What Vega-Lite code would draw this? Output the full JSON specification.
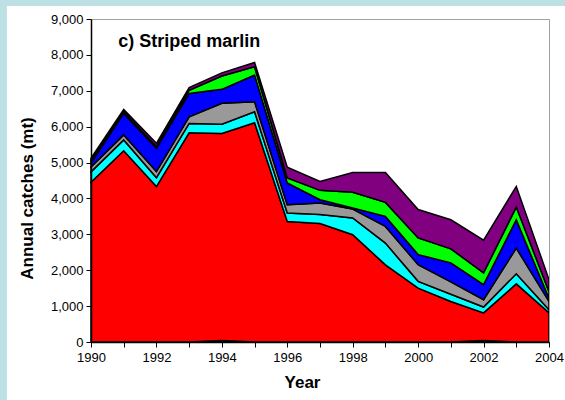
{
  "$schema": "https://vega.github.io/schema/vega-lite/v6.json",
  "width": 458,
  "height": 323,
  "autosize": {"type": "none"},
  "padding": {"left": 91, "top": 19, "right": 16, "bottom": 58},
  "background": "#bde0e4",
  "config": {
    "view": {"stroke": null},
    "font": "Liberation Sans",
    "axis": {
      "domainColor": "black",
      "domainWidth": 1.5,
      "tickColor": "black",
      "labelColor": "black",
      "titleColor": "black",
      "labelFont": "Liberation Sans",
      "titleFont": "Liberation Sans",
      "labelFontSize": 13,
      "titleFontSize": 17,
      "titleFontWeight": "bold",
      "tickSize": 5,
      "grid": false
    }
  },
  "layer": [
    {
      "data": {"values": [{}]},
      "mark": {"type": "rect", "color": "white"},
      "encoding": {
        "x": {"datum": 1987.43, "type": "quantitative", "scale": {"domain": [1990, 2004], "nice": false, "zero": false}, "axis": null},
        "x2": {"datum": 2005},
        "y": {"datum": 9362, "type": "quantitative", "scale": {"domain": [0, 9000], "nice": false}, "axis": null},
        "y2": {"datum": -2000}
      }
    },
    {
      "data": {
        "values": [
          {"year": 1990, "A": 0, "B": 4450, "C": 290, "D": 140, "E": 110, "F": 80, "G": 50},
          {"year": 1991, "A": 0, "B": 5330, "C": 300, "D": 140, "E": 600, "F": 50, "G": 60},
          {"year": 1992, "A": 0, "B": 4330, "C": 250, "D": 170, "E": 650, "F": 45, "G": 90},
          {"year": 1993, "A": 0, "B": 5830, "C": 260, "D": 185, "E": 650, "F": 90, "G": 75},
          {"year": 1994, "A": 40, "B": 5770, "C": 260, "D": 580, "E": 390, "F": 370, "G": 90},
          {"year": 1995, "A": 0, "B": 6110, "C": 305, "D": 280, "E": 745, "F": 230, "G": 120},
          {"year": 1996, "A": 0, "B": 3360, "C": 235, "D": 230, "E": 605, "F": 140, "G": 300},
          {"year": 1997, "A": 0, "B": 3300, "C": 250, "D": 325, "E": 90, "F": 260, "G": 250},
          {"year": 1998, "A": 0, "B": 2990, "C": 465, "D": 250, "E": 30, "F": 435, "G": 555},
          {"year": 1999, "A": 0, "B": 2150, "C": 605, "D": 465, "E": 280, "F": 390, "G": 835},
          {"year": 2000, "A": 0, "B": 1500, "C": 190, "D": 465, "E": 280, "F": 465, "G": 790},
          {"year": 2001, "A": 0, "B": 1130, "C": 200, "D": 345, "E": 530, "F": 390, "G": 810},
          {"year": 2002, "A": 40, "B": 770, "C": 165, "D": 205, "E": 420, "F": 325, "G": 910},
          {"year": 2003, "A": 0, "B": 1620, "C": 280, "D": 715, "E": 790, "F": 355, "G": 575},
          {"year": 2004, "A": 0, "B": 815, "C": 85, "D": 230, "E": 90, "F": 180, "G": 340}
        ]
      },
      "transform": [{"fold": ["A", "B", "C", "D", "E", "F", "G"], "as": ["series", "catch"]}],
      "mark": {"type": "area", "stroke": "black", "strokeWidth": 1.5, "strokeJoin": "miter", "interpolate": "linear"},
      "encoding": {
        "x": {
          "field": "year", "type": "quantitative",
          "scale": {"domain": [1990, 2004], "nice": false, "zero": false},
          "axis": {
            "orient": "bottom",
            "zindex": 2,
            "values": [1990, 1991, 1992, 1993, 1994, 1995, 1996, 1997, 1998, 1999, 2000, 2001, 2002, 2003, 2004],
            "format": "d",
            "labelExpr": "datum.value % 2 == 0 ? datum.label : ''",
            "labelFlush": false,
            "labelOverlap": false,
            "labelPadding": 4,
            "title": "Year",
            "titlePadding": 10,
            "titleX": 211
          }
        },
        "y": {
          "field": "catch", "type": "quantitative", "stack": "zero",
          "scale": {"domain": [0, 9000], "nice": false},
          "axis": {
            "orient": "left",
            "zindex": 2,
            "values": [0, 1000, 2000, 3000, 4000, 5000, 6000, 7000, 8000, 9000],
            "format": ",d",
            "labelPadding": 3,
            "title": "Annual catches (mt)",
            "titlePadding": 14,
            "titleY": 179
          }
        },
        "color": {
          "field": "series", "type": "nominal",
          "scale": {"domain": ["A", "B", "C", "D", "E", "F", "G"], "range": ["#000000", "#ff0000", "#00ffff", "#999999", "#0000ff", "#00ff00", "#800080"]},
          "legend": null
        },
        "order": {"field": "series", "sort": "ascending"}
      }
    },
    {
      "data": {"values": [{}]},
      "mark": {"type": "text", "text": "c) Striped marlin", "align": "left", "baseline": "alphabetic", "fontSize": 18, "fontWeight": "bold", "font": "Liberation Sans", "color": "black"},
      "encoding": {
        "x": {"datum": 1990.83, "type": "quantitative", "scale": {"domain": [1990, 2004], "nice": false, "zero": false},
              "axis": {"orient": "top", "zindex": 1, "labels": false, "ticks": false, "title": null, "domainColor": "#a0a0a0", "domainWidth": 1}},
        "y": {"datum": 8220, "type": "quantitative", "scale": {"domain": [0, 9000], "nice": false},
              "axis": {"orient": "right", "zindex": 1, "labels": false, "ticks": false, "title": null, "domainColor": "#a0a0a0", "domainWidth": 1}}
      }
    }
  ],
  "resolve": {"axis": {"x": "independent", "y": "independent"}}
}
